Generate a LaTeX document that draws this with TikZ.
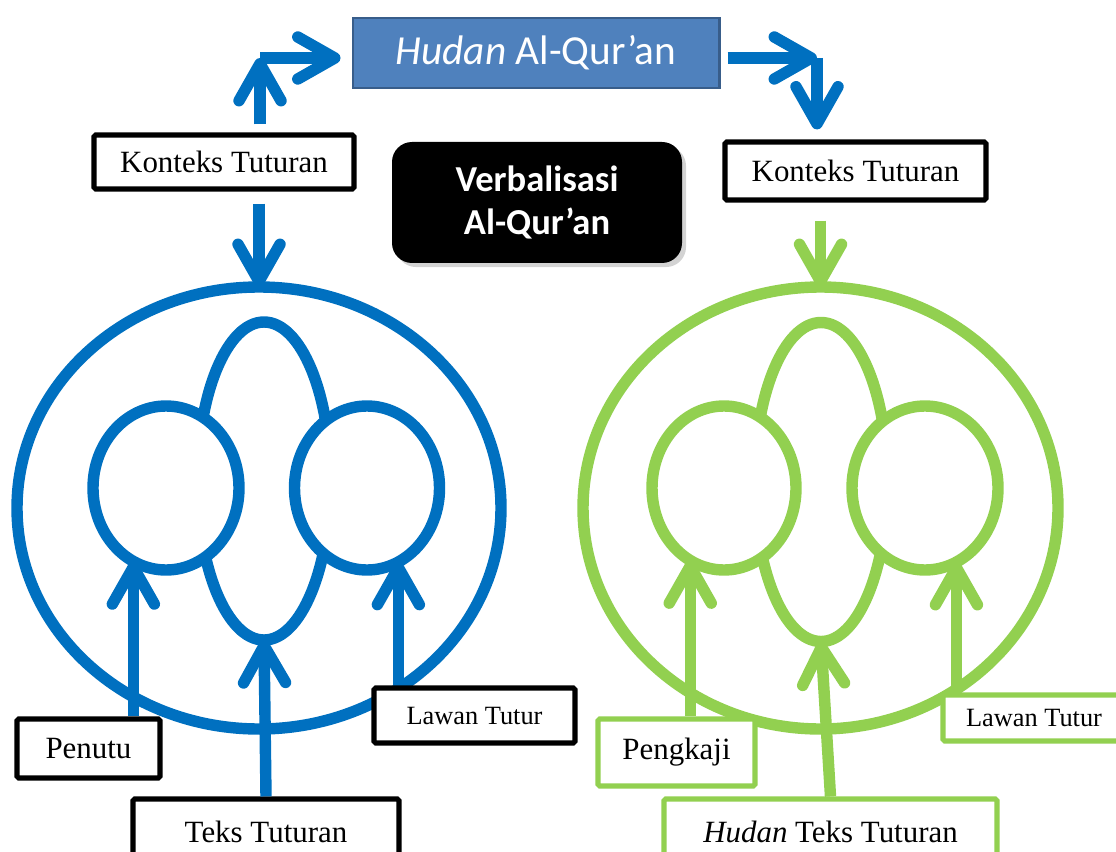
\documentclass[tikz,border=0pt]{standalone}
\usepackage{fontspec}
\setmainfont{Liberation Serif}
\newfontfamily\calibri{Carlito}
\usetikzlibrary{arrows.meta,shapes.geometric,shadows}
\definecolor{tutblue}{HTML}{0070C0}
\definecolor{tutgreen}{HTML}{92D050}
\definecolor{hqfill}{HTML}{4F81BD}
\definecolor{hqline}{HTML}{385D8A}

\begin{document}
\begin{tikzpicture}[
    lbl/.style={draw, line width=2.9pt, fill=white, rounded corners=1pt, inner sep=0pt, font=\fontsize{17.6}{20}\selectfont},
    small/.style={font=\fontsize{15}{18}\selectfont},
    ring/.style={ellipse, draw, line width=6.5pt, inner sep=0pt, outer sep=0pt},
    arr/.style={-{Straight Barb[length=0.74cm, width=0.84cm, line cap=round, line join=round]}, line width=6.5pt}
]
\useasboundingbox (0,0) rectangle (22.32,-17.04);
% left model
\node[ring, draw=tutblue, minimum width=9.68cm, minimum height=8.84cm] (big1) at (5.18,-10.16) {};
\node[ring, draw=tutblue, minimum width=2.66cm, minimum height=6.36cm] (ov1) at (5.28,-9.62) {};
\node[ring, draw=tutblue, fill=white, minimum width=2.92cm, minimum height=3.28cm] (c1) at (3.32,-9.76) {};
\node[ring, draw=tutblue, fill=white, minimum width=2.90cm, minimum height=3.28cm] (c2) at (7.34,-9.76) {};
% right model
\node[ring, draw=tutgreen, minimum width=9.50cm, minimum height=8.84cm] (big2) at (16.41,-10.16) {};
\node[ring, draw=tutgreen, minimum width=2.66cm, minimum height=6.38cm] (ov2) at (16.42,-9.64) {};
\node[ring, draw=tutgreen, fill=white, minimum width=2.88cm, minimum height=3.28cm] (c3) at (14.48,-9.76) {};
\node[ring, draw=tutgreen, fill=white, minimum width=2.92cm, minimum height=3.28cm] (c4) at (18.50,-9.76) {};

\node[draw=hqline, fill=hqfill, line width=1.7pt, minimum width=7.32cm, minimum height=1.40cm, text=white, font=\calibri\fontsize{23.5}{27}\selectfont] (hq) at (10.72,-1.06) {\textit{Hudan} Al-Qur’an};
\node[fill=black, rounded corners=0.4cm, minimum width=5.80cm, minimum height=2.42cm, text=white, align=center, font=\calibri\bfseries\fontsize{20.8}{24.4}\selectfont, drop shadow={opacity=0.35}] (vq) at (10.74,-4.05) {\raisebox{-4pt}{\parbox{5cm}{\centering Verbalisasi\\Al-Qur’an}}};

\node[lbl, minimum width=5.20cm, minimum height=1.08cm] (kt1) at (4.48,-3.24) {Konteks Tuturan};
\node[lbl, minimum width=5.22cm, minimum height=1.16cm] (kt2) at (17.11,-3.42) {Konteks Tuturan};
\node[lbl, minimum width=2.86cm, minimum height=1.18cm] (pen) at (1.77,-14.97) {Penutu};
\node[lbl, minimum width=5.32cm, minimum height=1.32cm] (tt) at (5.32,-16.64) {Teks Tuturan};
\node[lbl, small, minimum width=4.02cm, minimum height=1.10cm] (lt1) at (9.49,-14.31) {Lawan Tutur};
\node[lbl, draw=tutgreen, minimum width=3.14cm, minimum height=1.34cm] (pk) at (13.53,-15.05) {Pengkaji};
\node[lbl, draw=tutgreen, minimum width=6.66cm, minimum height=1.32cm] (ht) at (16.61,-16.64) {\textit{Hudan} Teks Tuturan};
\node[lbl, small, draw=tutgreen, minimum width=3.64cm, minimum height=0.92cm] (lt2) at (20.68,-14.36) {Lawan Tutur};

\coordinate (up1) at (5.20,-1.16);
\coordinate (dn2) at (16.34,-1.16);

\draw[arr, tutblue, shorten <=0.16cm] (up1 |- kt1.north) -- (up1);
\draw[arr, tutblue, shorten >=0.22cm] (up1) -- (up1 -| hq.west);
\draw[arr, tutblue, shorten <=0.14cm] (dn2 -| hq.east) -- (dn2);
\draw[arr, tutblue, shorten >=0.20cm] (dn2) -- (dn2 |- kt2.north);
\draw[arr, tutblue, shorten <=0.24cm] (kt1.south -| big1.north) -- (big1.north);
\draw[arr, tutgreen, shorten <=0.36cm] (kt2.south -| big2.north) -- (big2.north);

\draw[arr, tutblue] (pen.north -| c1.246) -- (c1.246);
\draw[arr, tutblue] (tt.north) -- (ov1.south);
\draw[arr, tutblue] (lt1.north -| c2.293) -- (c2.293);
\draw[arr, tutgreen] (pk.north -| c3.245) -- (c3.245);
\draw[arr, tutgreen] (ht.north) -- (ov2.south);
\draw[arr, tutgreen] (lt2.north -| c4.293) -- (c4.293);
\end{tikzpicture}
\end{document}
